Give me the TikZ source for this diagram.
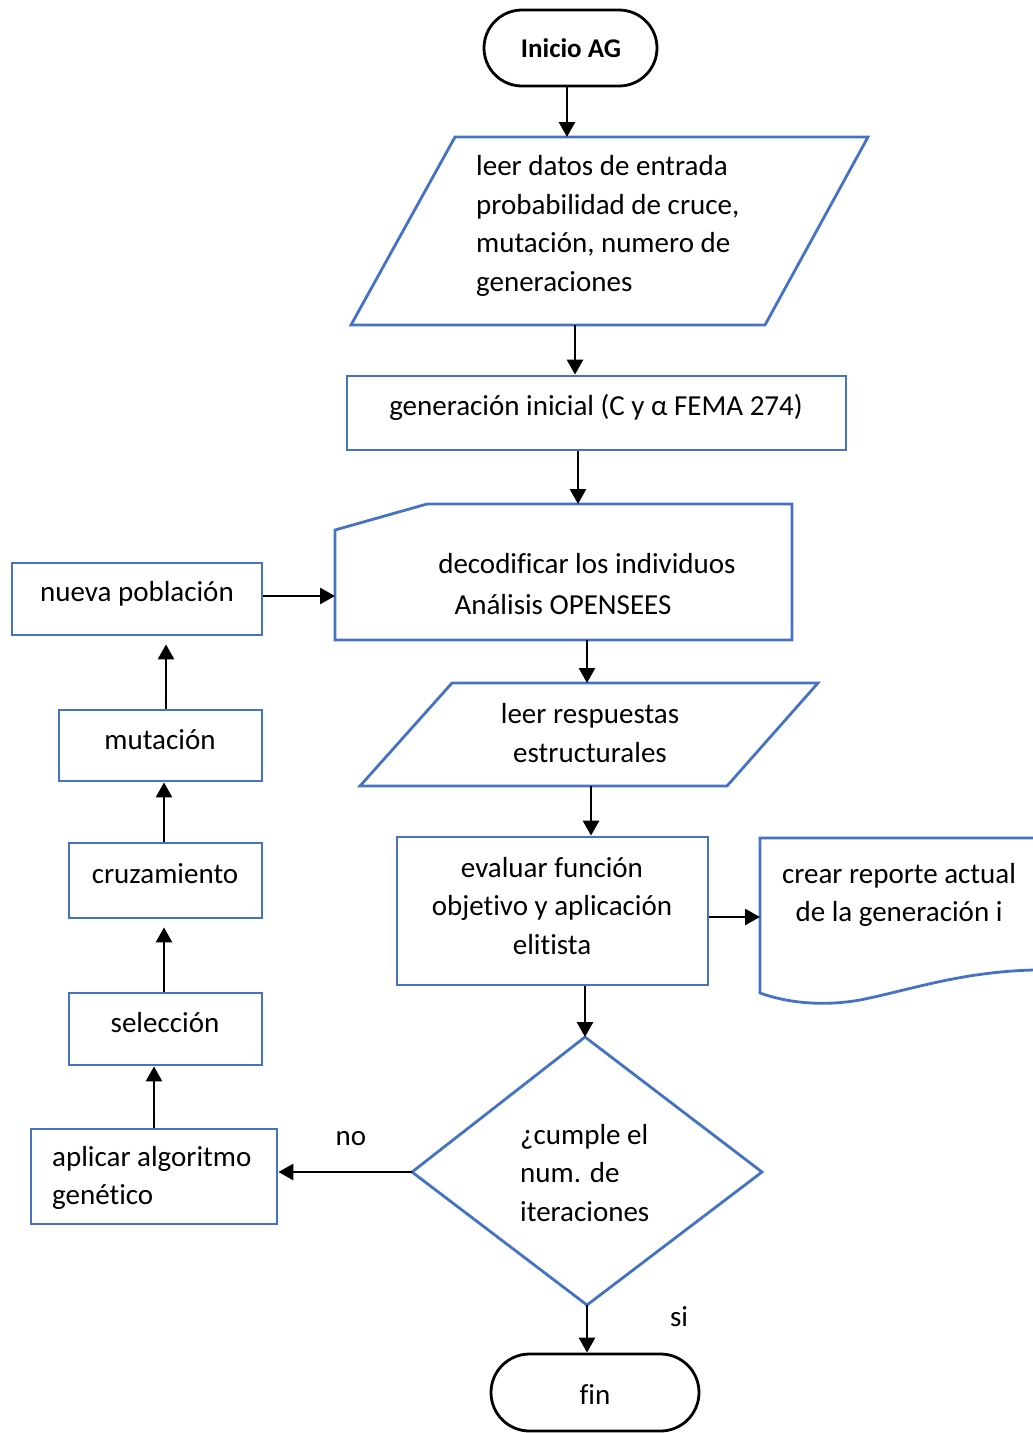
\documentclass[tikz,border=0pt]{standalone}
\usepackage{fontspec}
\setmainfont{Carlito}[Ligatures={NoCommon}]
\usetikzlibrary{arrows.meta,shapes.misc}
\definecolor{bordeazul}{RGB}{68,114,196}
\begin{document}
\begin{tikzpicture}[x=1pt,y=-1pt,
  blue line/.style={draw=bordeazul,line width=2.8pt,line join=miter},
  box/.style={blue line,rectangle,inner sep=0pt},
  terminal/.style={draw=black,line width=2.8pt,rounded rectangle,inner sep=0pt},
  txt/.style={inner sep=0pt,font=\fontsize{29}{38.7}\selectfont},
  arr/.style={draw=black,line width=2.8pt,-{Triangle[length=15pt,width=16pt]}}]
\useasboundingbox (0,0) rectangle (1033,1433);
\clip (0,0) rectangle (1033,1433);
\fill[white] (0,0) rectangle (1033,1433);

% terminals
\node[terminal,minimum width=173pt,minimum height=76pt] (inicio) at (570.5,48) {};
\node[txt,font=\fontsize{27}{36}\selectfont\bfseries] (tinicio) at (571,48) {Inicio AG};
\node[terminal,minimum width=208pt,minimum height=77pt] (fin) at (595,1392.5) {};
\node[txt] (tfin) at (595,1395) {fin};

% parallelogram 1
\coordinate (p1t) at (567,137);
\coordinate (p1b) at (575,325);
\draw[blue line] (455,137) -- (868,137) -- (765,325) -- (351,325) -- cycle;
\node[txt,align=left,anchor=west] (tp1) at (476,226)
  {leer datos de entrada\\probabilidad de cruce,\\mutación, numero de\\generaciones};

% generacion inicial
\node[box,minimum width=499pt,minimum height=74pt] (gen) at (596.5,413) {};
\node[txt] (tgen) at (596,407) {generación inicial (C y α FEMA 274)};

% decodificar
\coordinate (dect) at (578,504);
\coordinate (decb) at (587,640);
\coordinate (decw) at (335,596);
\draw[blue line] (427,504) -- (792,504) -- (792,640) -- (335,640) -- (335,530) -- cycle;
\node[txt] (tdec1) at (587,564) {decodificar los individuos};
\node[txt] (tdec2) at (563,605) {Análisis OPENSEES};

% parallelogram 2
\coordinate (p2t) at (587,683);
\coordinate (p2b) at (591,786);
\draw[blue line] (452,683) -- (818,683) -- (727,786) -- (360,786) -- cycle;
\node[txt,align=center] (tp2) at (590,733) {leer respuestas\\estructurales};

% evaluar
\node[box,minimum width=311pt,minimum height=148pt] (eval) at (552.5,911) {};
\node[txt,align=center] (teval) at (552,906) {evaluar función\\objetivo y aplicación\\elitista};

% document
\coordinate (docw) at (760,917);
\draw[blue line] (1050,970) -- (1033,970) .. controls (960,972) and (910,990) .. (860,1000)
  .. controls (820,1007) and (785,1002) .. (760,993) -- (760,838) -- (1050,838);
\node[txt,align=center] (tdoc) at (899,895) {crear reporte actual\\de la generación i};

% decision
\coordinate (dtop) at (585,1037);
\coordinate (dleft) at (412,1172);
\coordinate (dright) at (762,1172);
\coordinate (dbot) at (587,1305);
\draw[blue line] (dtop) -- (dright) -- (dbot) -- (dleft) -- cycle;
\node[txt,align=left,anchor=west] (tdec) at (520,1173) {¿cumple el\\num. de\\iteraciones};

% left column
\node[box,minimum width=246pt,minimum height=95pt] (apl) at (154,1176.5) {};
\node[txt,align=left,anchor=west] (tapl) at (52,1178) {aplicar algoritmo\\genético};
\node[box,minimum width=193pt,minimum height=72pt] (sel) at (165.5,1029) {};
\node[txt] (tsel) at (165,1023) {selección};
\node[box,minimum width=193pt,minimum height=75pt] (cruz) at (165.5,880.5) {};
\node[txt] (tcruz) at (165,874) {cruzamiento};
\node[box,minimum width=203pt,minimum height=71pt] (mut) at (160.5,745.5) {};
\node[txt] (tmut) at (160,740) {mutación};
\node[box,minimum width=250pt,minimum height=72pt] (nueva) at (137,599) {};
\node[txt] (tnueva) at (137,594) {nueva población};

% labels
\node[txt] (lno) at (351,1139) {no};
\node[txt] (lsi) at (679,1317) {si};

% connector x positions in the left column
\coordinate (xa) at (164,0);
\coordinate (xb) at (166,0);

% connectors
\draw[arr] (p1t |- inicio.south) -- (p1t);
\draw[arr] (p1b) -- (p1b |- gen.north);
\draw[arr] (dect |- gen.south) -- (dect);
\draw[arr] (decb) -- (p2t);
\draw[arr] (p2b) -- (p2b |- eval.north);
\draw[arr] (eval.east |- docw) -- (docw);
\draw[arr] (dtop |- eval.south) -- (dtop);
\draw[arr] (dleft) -- (apl.east |- dleft);
\draw[arr] (dbot) -- (dbot |- fin.north);
\draw[arr] (apl.north) -- (apl.north |- sel.south);
\draw[arr,shorten >=8pt] (xa |- sel.north) -- (xa |- cruz.south);
\draw[arr] (xa |- cruz.north) -- (xa |- mut.south);
\draw[arr,shorten >=8pt] (xb |- mut.north) -- (xb |- nueva.south);
\draw[arr] (nueva.east |- decw) -- (decw);
\end{tikzpicture}
\end{document}
